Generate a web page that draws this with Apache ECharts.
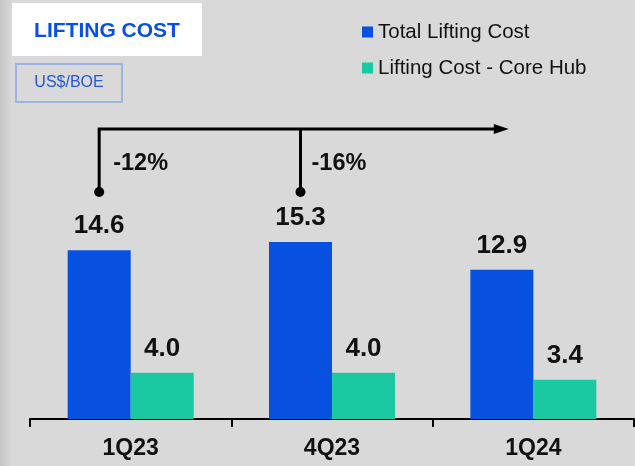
<!DOCTYPE html>
<html>
<head>
<meta charset="utf-8">
<script src="https://cdn.jsdelivr.net/npm/echarts@6/dist/echarts.min.js"></script>
<style>
html,body{margin:0;padding:0;background:#d9d9d9;}
#main{width:635px;height:466px;}
</style>
</head>
<body>
<div id="main"></div>
<script>
var categories = ['1Q23', '4Q23', '1Q24'];
var totalLifting = [14.6, 15.3, 12.9];
var coreHub = [4.0, 4.0, 3.4];
var seriesNames = ['Total Lifting Cost', 'Lifting Cost - Core Hub'];
var changeLabels = ['-12%', '-16%'];

var BLUE = '#0750e0';
var TEAL = '#1ac8a1';
var FONT = '"Liberation Sans", Arial, sans-serif';

var chart = echarts.init(document.getElementById('main'), null, {renderer: 'canvas'});

var option = {
  backgroundColor: '#d9d9d9',
  animation: false,
  textStyle: {fontFamily: FONT},
  grid: {left: 30, right: 1, top: 72, bottom: 47},
  legend: {
    orient: 'vertical',
    left: 357,
    top: 16,
    itemWidth: 11,
    itemHeight: 11,
    itemGap: 14,
    icon: 'rect',
    textStyle: {fontSize: 20.5, color: '#111', fontFamily: FONT, lineHeight: 22},
    data: seriesNames
  },
  xAxis: {
    type: 'category',
    data: categories,
    axisLine: {show: true, lineStyle: {color: '#000', width: 2}},
    axisTick: {show: true, length: 8, lineStyle: {color: '#000', width: 2}},
    axisLabel: {fontSize: 23, fontWeight: 'bold', color: '#111', margin: 18, fontFamily: FONT}
  },
  yAxis: {
    type: 'value', min: 0, max: 30, show: false,
    splitLine: {show: false}
  },
  series: [
    {
      name: seriesNames[0], type: 'bar', data: totalLifting,
      barWidth: 63, barGap: '0%',
      itemStyle: {color: BLUE},
      label: {show: true, position: 'top', distance: 11, fontSize: 26, fontWeight: 'bold', color: '#111',
        fontFamily: FONT, formatter: function (p) { return p.value.toFixed(1); }}
    },
    {
      name: seriesNames[1], type: 'bar', data: coreHub,
      barWidth: 63, barGap: '0%',
      itemStyle: {color: TEAL},
      label: {show: true, position: 'top', distance: 11, fontSize: 26, fontWeight: 'bold', color: '#111',
        fontFamily: FONT, formatter: function (p) { return p.value.toFixed(1); }}
    }
  ]
};
chart.setOption(option);

// annotation positions derived from bar positions
var barHalf = 31.5;
var x1 = chart.convertToPixel({xAxisIndex: 0}, categories[0]) - barHalf;
var x2 = chart.convertToPixel({xAxisIndex: 0}, categories[1]) - barHalf;
var x3 = chart.convertToPixel({xAxisIndex: 0}, categories[2]) - barHalf;
var yLine = 129, yDot = 192;
var arrowEnd = x3 + 7;

chart.setOption({
  graphic: [
    {type: 'rect', left: 0, top: 0, z: -1, shape: {x: 0, y: 0, width: 12, height: 466},
      style: {fill: new echarts.graphic.LinearGradient(0, 0, 1, 0, [{offset: 0, color: '#c4c4c4'}, {offset: 1, color: '#d9d9d9'}])}},
    {type: 'rect', shape: {x: 12, y: 3, width: 190, height: 53}, style: {fill: '#ffffff'}},
    {type: 'text', x: 107, y: 31, style: {text: 'LIFTING COST', fill: BLUE, font: 'bold 21px ' + FONT, textAlign: 'center', textVerticalAlign: 'middle'}},
    {type: 'rect', shape: {x: 16, y: 64, width: 106, height: 38}, style: {fill: 'none', stroke: '#9db3e2', lineWidth: 2}},
    {type: 'text', x: 69, y: 83, style: {text: 'US$/BOE', fill: '#2457d8', font: '16px ' + FONT, textAlign: 'center', textVerticalAlign: 'middle'}},
    {type: 'polyline', shape: {points: [[x1, yDot], [x1, yLine], [arrowEnd - 14, yLine]]}, style: {stroke: '#000', lineWidth: 3, fill: 'none'}},
    {type: 'line', shape: {x1: x2, y1: yLine, x2: x2, y2: yDot}, style: {stroke: '#000', lineWidth: 3}},
    {type: 'polygon', shape: {points: [[arrowEnd - 15, yLine - 5], [arrowEnd, yLine], [arrowEnd - 15, yLine + 5]]}, style: {fill: '#000'}},
    {type: 'circle', shape: {cx: x1, cy: yDot, r: 5}, style: {fill: '#000'}},
    {type: 'circle', shape: {cx: x2, cy: yDot, r: 5}, style: {fill: '#000'}},
    {type: 'text', x: x1 + 14, y: 164, style: {text: changeLabels[0], fill: '#111', font: 'bold 23.5px ' + FONT, textVerticalAlign: 'middle'}},
    {type: 'text', x: x2 + 11, y: 164, style: {text: changeLabels[1], fill: '#111', font: 'bold 23.5px ' + FONT, textVerticalAlign: 'middle'}}
  ]
});
</script>
</body>
</html>
